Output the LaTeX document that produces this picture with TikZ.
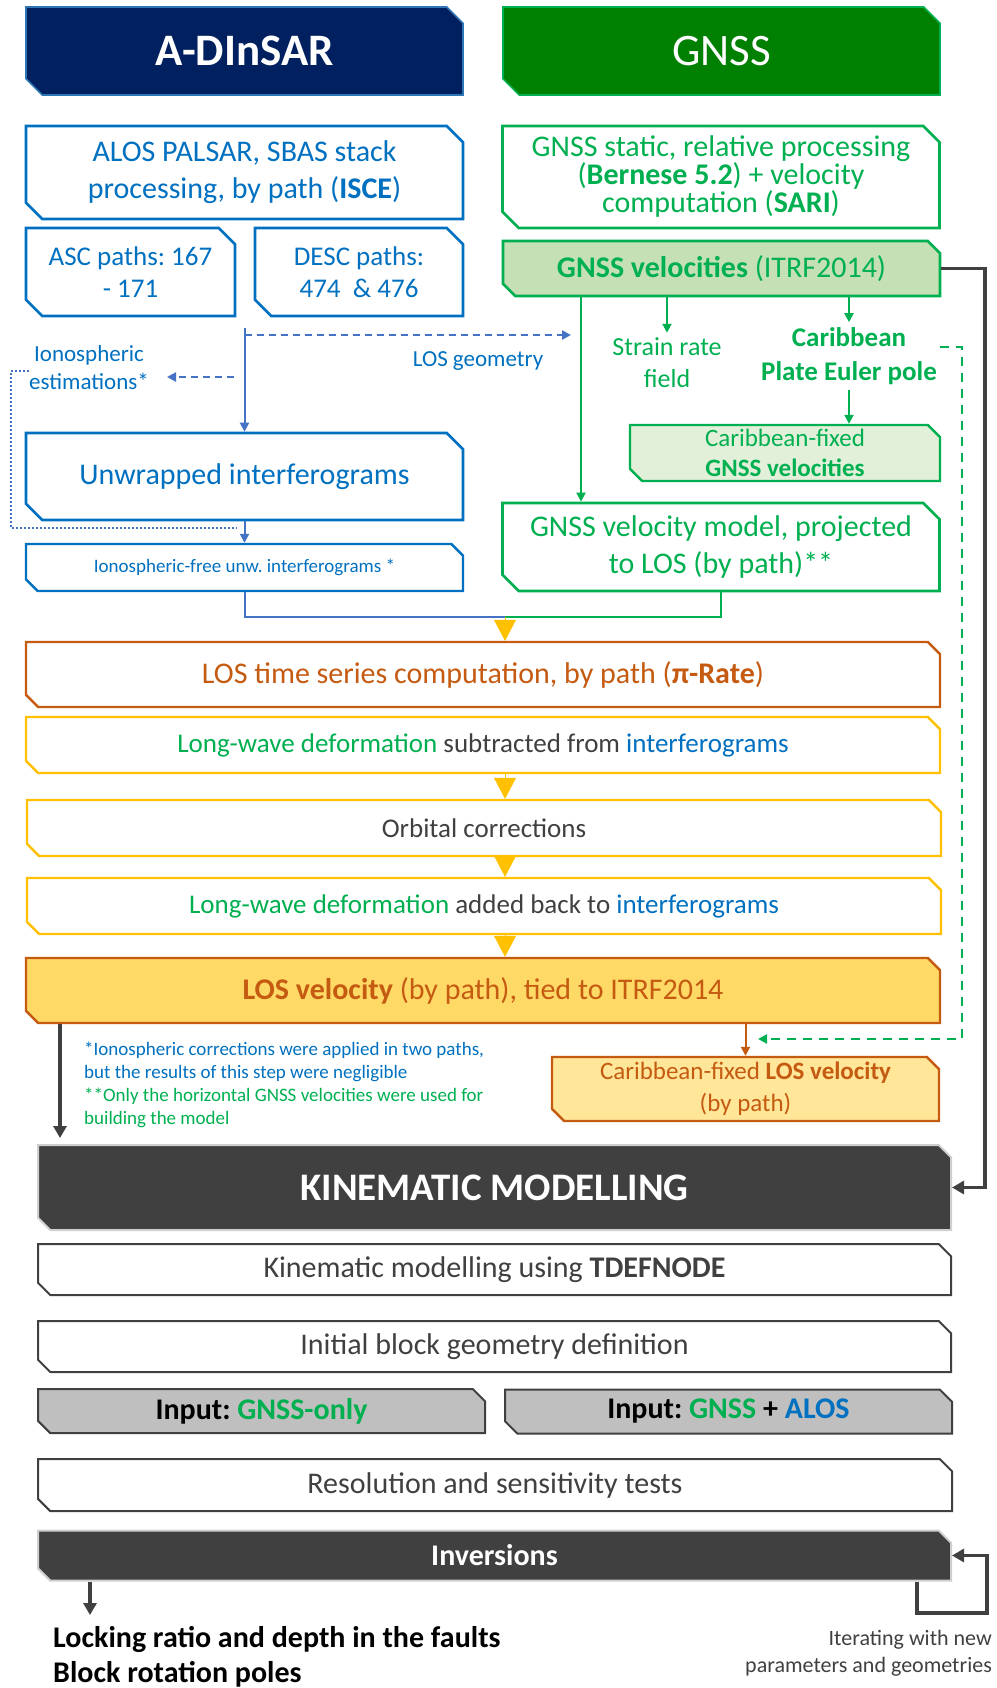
\documentclass[tikz,border=0pt]{standalone}
\usepackage{fontspec}
\setmainfont{Carlito}
\usetikzlibrary{shapes.misc,arrows.meta,calc}
\frenchspacing

\definecolor{navy}{HTML}{002060}
\definecolor{navyedge}{HTML}{2E75B6}
\definecolor{gdark}{HTML}{008000}
\definecolor{gmain}{HTML}{00B050}
\definecolor{gfill}{HTML}{C5E0B4}
\definecolor{gpale}{HTML}{E2F0D9}
\definecolor{bmain}{HTML}{0070C0}
\definecolor{bline}{HTML}{4472C4}
\definecolor{orng}{HTML}{C55A11}
\definecolor{ylw}{HTML}{FFC000}
\definecolor{yfill}{HTML}{FFD966}
\definecolor{ypale}{HTML}{FFE699}
\definecolor{dgray}{HTML}{404040}
\definecolor{lgray}{HTML}{BFBFBF}
\definecolor{rimgray}{HTML}{CFCFCF}

\newcommand{\fsz}[2]{\fontsize{#1pt}{#2pt}\selectfont}

\tikzset{
  cbox/.style={chamfered rectangle,
    chamfered rectangle corners={north east,south west},
    chamfered rectangle angle=45, chamfered rectangle xsep=#1,
    inner sep=0pt, align=center},
  cbox/.default=10pt,
  sz/.style 2 args={minimum width=#1pt, minimum height=#2pt},
  hdrA/.style={cbox=13pt, fill=navy, draw=navyedge, line width=1.6pt, text=white},
  hdrG/.style={cbox=13pt, fill=gdark, draw=gmain, line width=1.6pt, text=white},
  blubox/.style={cbox=13pt, fill=white, draw=bmain, line width=2.6pt, text=bmain},
  grnbox/.style={cbox=13pt, fill=white, draw=gmain, line width=2.6pt, text=gmain},
  ylwbox/.style={cbox=9pt, fill=white, draw=ylw, line width=2.4pt, text=dgray},
  orgbox/.style={cbox=9pt, fill=white, draw=orng, line width=2.4pt, text=orng},
  wbox/.style={cbox=9pt, fill=white, draw=dgray, line width=2pt, text=dgray},
  gybox/.style={cbox=9pt, fill=lgray, draw=dgray, line width=2pt, text=black},
  dkbox/.style={cbox=9pt, fill=dgray, draw=rimgray, line width=2pt, text=white},
  lbl/.style={inner sep=5pt, align=center},
  bcon/.style={draw=bline, line width=2pt},
  gcon/.style={draw=gmain, line width=2pt},
  ocon/.style={draw=orng, line width=2pt},
  dcon/.style={draw=dgray, line width=3.5pt},
  bdash/.style={draw=bline, line width=2.2pt, dash pattern=on 7pt off 5pt},
  gdash/.style={draw=gmain, line width=2.2pt, dash pattern=on 9pt off 7pt},
  bdot/.style={draw=bline, line width=2pt, dash pattern=on 2pt off 2pt},
  stip/.style={-{Triangle[length=9pt,width=9pt]}},
  dtip/.style={-{Triangle[length=12pt,width=13pt]}},
  ytri/.style={draw=ylw, line width=0.4pt, -{Triangle[length=21pt,width=22pt,fill=ylw]}}
}

\begin{document}
\begin{tikzpicture}[x=1pt, y=-1pt]
\useasboundingbox (0,0) rectangle (996,1688);

% ---------- column headers ----------
\node[hdrA, sz={437}{88}, font=\fsz{45}{54}\bfseries] (hA) at (244.5,51) {A-DInSAR};
\node[hdrG, sz={437}{88}, font=\fsz{45}{54}] (hG) at (721.5,51) {GNSS};

% ---------- A-DInSAR branch ----------
\node[blubox, sz={437}{93}, font=\fsz{30}{37}] (alos) at (244.5,172.5)
  {ALOS PALSAR, SBAS stack\\processing, by path (\textbf{ISCE})};
\node[blubox, sz={209}{88}, font=\fsz{27}{32}] (asc) at (130.5,272)
  {ASC paths: 167\\- 171};
\node[blubox, sz={208}{88}, font=\fsz{27}{32}] (desc) at (359,272)
  {DESC paths:\\474~~\& 476};

\coordinate (split) at (244.5,328);
\coordinate (losy) at (244.5,335);
\coordinate (gdrop) at (581,296);

\node[lbl, text=bmain, font=\fsz{23}{28}] (losg) at (478,361) {LOS geometry};
\node[lbl, text=bmain, font=\fsz{23}{28}] (ionest) at (89,368) {Ionospheric\\estimations*};

\node[blubox, sz={437}{87}, font=\fsz{30}{36}] (unw) at (244.5,476.5) {Unwrapped interferograms};
\node[blubox, sz={437}{47}, cbox=10pt, line width=2.4pt, font=\fsz{19}{23}] (ifree) at (244.5,567.5)
  {Ionospheric-free unw. interferograms *};

% ---------- GNSS branch ----------
\node[grnbox, sz={437}{102}, font=\fsz{30}{28}] (gstat) at (721,177)
  {GNSS static, relative processing\\(\textbf{Bernese 5.2}) + velocity\\computation (\textbf{SARI})};
\node[grnbox, cbox=9pt, fill=gfill, sz={437}{55}, font=\fsz{30}{36}] (gvel) at (721.5,268.5)
  {\textbf{GNSS velocities} (ITRF2014)};
\node[lbl, text=gmain, font=\fsz{26}{32}] (strain) at (667,363) {Strain rate\\field};
\node[lbl, text=gmain, font=\fsz{27}{34}\bfseries] (euler) at (849,356) {Caribbean\\Plate Euler pole};
\node[grnbox, cbox=9pt, fill=gpale, sz={310}{56}, line width=2.4pt, font=\fsz{25}{30}] (cfix) at (785,453)
  {Caribbean-fixed\\\textbf{GNSS velocities}};
\node[grnbox, sz={437}{88}, font=\fsz{30}{37}] (gmod) at (721,547)
  {GNSS velocity model, projected\\to LOS (by path)**};

% ---------- shared processing chain ----------
\coordinate (join) at (505,617);
\node[orgbox, sz={914}{65}, font=\fsz{30}{36}] (ts) at (483,674.5)
  {LOS time series computation, by path (\textbf{π-Rate})};
\node[ylwbox, sz={914}{56}, font=\fsz{27}{32}] (lw1) at (483,745)
  {\textcolor{gmain}{Long-wave deformation} subtracted from \textcolor{bmain}{interferograms}};
\node[ylwbox, sz={914}{56}, font=\fsz{27}{32}] (orb) at (484,828) {Orbital corrections};
\node[ylwbox, sz={914}{56}, font=\fsz{27}{32}] (lw2) at (484,906)
  {\textcolor{gmain}{Long-wave deformation} added back to \textcolor{bmain}{interferograms}};
\node[orgbox, fill=yfill, sz={914}{65}, font=\fsz{30}{36}] (losv) at (483,990.5)
  {\textbf{LOS velocity} (by path), tied to ITRF2014};
\node[orgbox, fill=ypale, sz={387}{64}, font=\fsz{25}{32}] (cfl) at (745.5,1089)
  {Caribbean-fixed \textbf{LOS velocity}\\(by path)};

\node[anchor=west, inner sep=0pt, align=left, font=\fsz{19}{23}] (notes) at (84,1084.5)
  {\textcolor{bmain}{*Ionospheric corrections were applied in two paths,}\\
   \textcolor{bmain}{but the results of this step were negligible}\\
   \textcolor{gmain}{**Only the horizontal GNSS velocities were used for}\\
   \textcolor{gmain}{building the model}};

% ---------- kinematic modelling ----------
\node[dkbox, sz={913}{85}, font=\fsz{39}{46}\bfseries] (kin) at (494.5,1187.5) {KINEMATIC MODELLING};
\node[wbox, sz={913}{51}, font=\fsz{30}{36}] (tdef) at (494.5,1269.5)
  {Kinematic modelling using \textbf{TDEFNODE}};
\node[wbox, sz={913}{51}, font=\fsz{30}{36}] (ibg) at (494.5,1346.5) {Initial block geometry definition};
\node[gybox, sz={447}{44}, font=\fsz{30}{36}\bfseries] (in1) at (261.5,1411)
  {Input: \textcolor{gmain}{GNSS-only}};
\node[gybox, sz={447}{44}, font=\fsz{30}{36}\bfseries] (in2) at (728.5,1411.5)
  {Input: \textcolor{gmain}{GNSS} + \textcolor{bmain}{ALOS}};
\node[wbox, sz={914}{52}, font=\fsz{30}{36}] (res) at (495,1485) {Resolution and sensitivity tests};
\node[dkbox, sz={913}{50}, font=\fsz{30}{36}\bfseries] (inv) at (494.5,1555.5) {Inversions};

\node[anchor=west, inner sep=0pt, align=left, font=\fsz{30}{35}\bfseries] (out) at (53,1657)
  {Locking ratio and depth in the faults\\Block rotation poles};
\node[anchor=east, inner sep=0pt, align=right, text=dgray, font=\fsz{22}{27}] (iter) at (992,1653.5)
  {Iterating with new\\parameters and geometries};

\coordinate (outx) at (90,1615);
\coordinate (lp) at (987,1613);

% ---------- connectors: A-DInSAR ----------
\draw[bcon, stip] (split) -- (unw.north);
\draw[bdash, stip] (losy) -- ($(gdrop |- losy)+(-10,0)$);
\draw[bdash, stip] (234,377) -- (167,377);
\draw[bdot] (29,371) -- (11,371) -- (11,528) -- (237,528);
\draw[bcon, stip] (unw.south) -- (ifree.north);
\draw[bcon] (ifree.south) |- (join);

% ---------- connectors: GNSS ----------
\draw[gcon, stip] (gdrop) -- (gdrop |- gmod.north);
\draw[gcon, stip] (gvel.south -| strain) -- (strain.north);
\draw[gcon, stip] (gvel.south -| euler) -- (euler.north);
\draw[gcon, stip] (euler.south) -- (euler.south |- cfix.north);
\draw[gcon] (gmod.south) |- (join);
\draw[gdash, stip] ($(euler.east)+(-2,-9)$) -- (962,347) |- (758,1039);
\draw[dcon, dtip] (gvel.east) -- (985,268.5) |- (kin.east);

% ---------- connectors: processing chain ----------
\draw[ytri] (join) -- (join |- ts.north);
\draw[ytri] (lw1.south -| join) -- (orb.north -| join);
\draw[ytri] (orb.south -| join) -- (lw2.north -| join);
\draw[ytri] (lw2.south -| join) -- (losv.north -| join);
\draw[ocon, stip] (losv.south -| cfl.north) -- (cfl.north);
\draw[dcon, dtip, shorten >=6pt] (losv.south -| 60,0) -- (kin.north -| 60,0);

% ---------- connectors: modelling ----------
\draw[dcon, dtip] (inv.south -| outx) -- (outx);
\draw[dcon, dtip] (inv.south -| 917,0) |- (lp) |- (inv.east);
\end{tikzpicture}
\end{document}
